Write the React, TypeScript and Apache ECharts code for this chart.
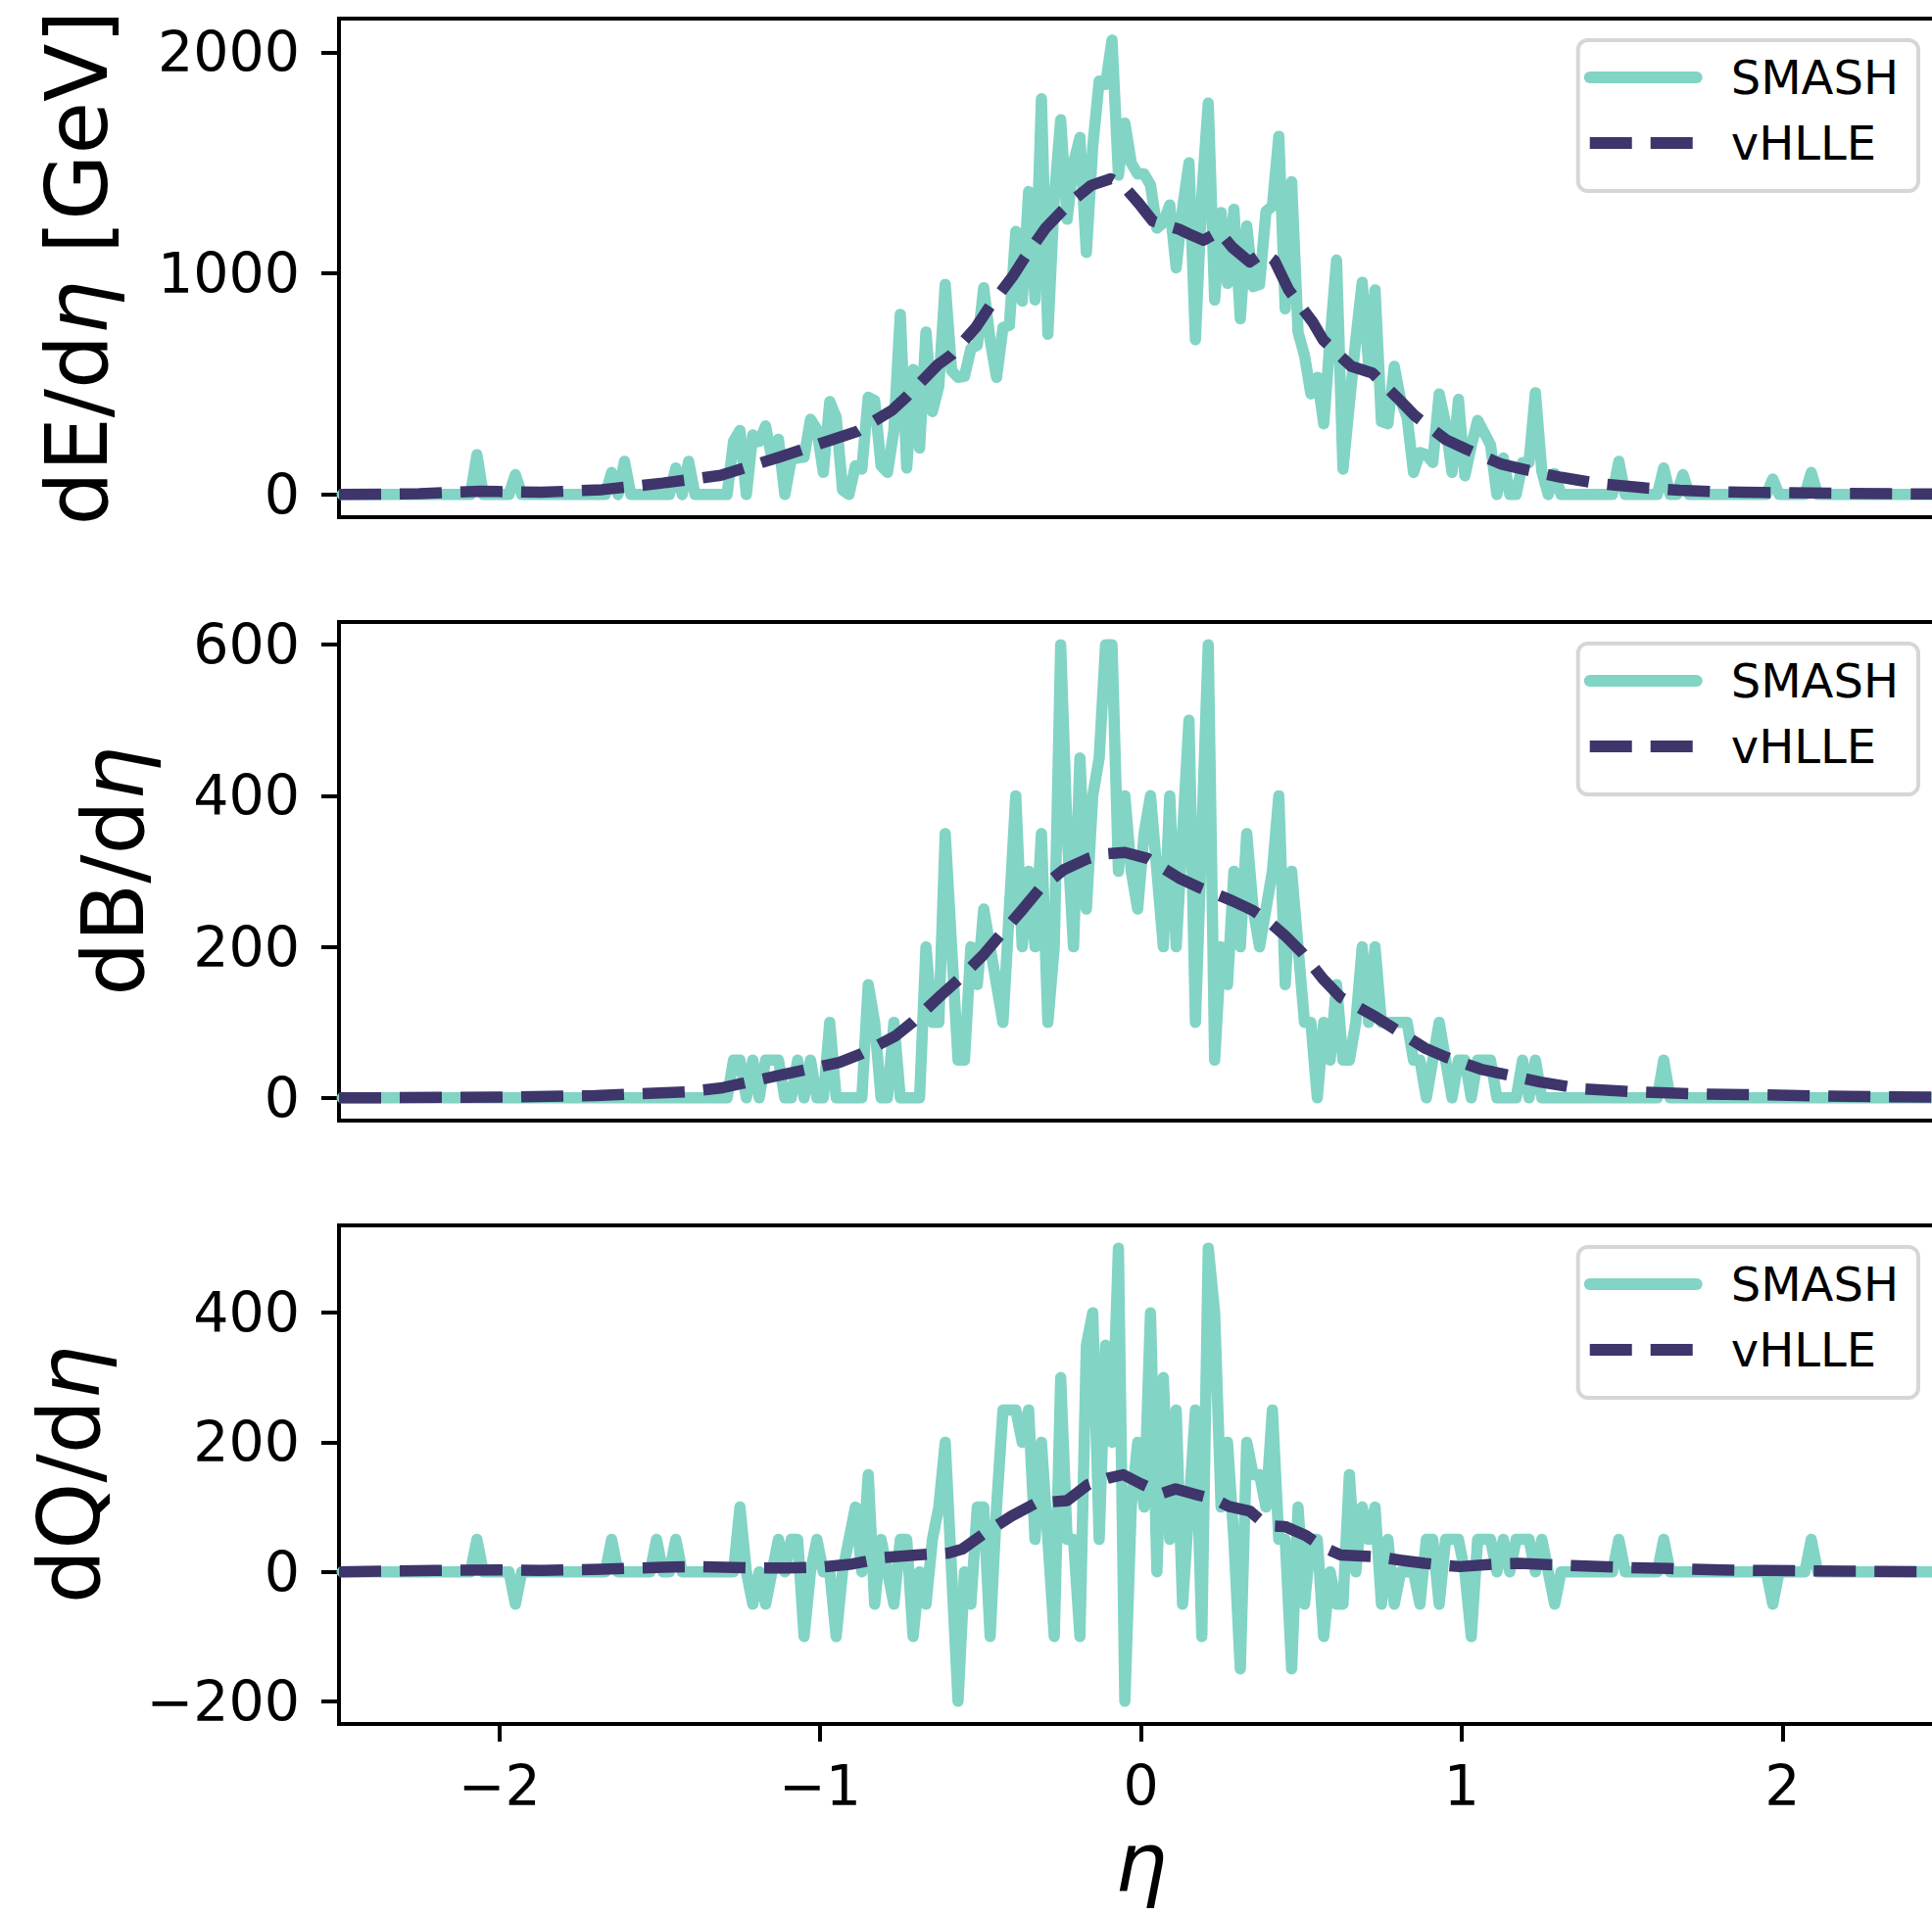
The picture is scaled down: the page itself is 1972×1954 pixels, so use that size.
import React, { useEffect, useRef } from 'react';
import * as echarts from 'echarts';

// SMASH histogram: 250 bins of width 0.02 in eta, first bin centre at -2.49
const ETA_START = -2.49;
const ETA_STEP = 0.02;

const smashE = [
  0, 0, 0, 0, 0, 0, 0, 0, 0, 0, 0, 0, 0, 0, 0, 0, 0, 0, 0, 0, 0,
  180, 0, 0, 0, 0, 0, 90,
  0, 0, 0, 0, 0, 0, 0, 0, 0, 0, 0, 0, 0, 0,
  100, 0, 150, 0, 0, 0, 0, 0, 0, 0, 120, 0, 150,
  0, 0, 0, 0, 0, 0,
  240, 290, 0, 270, 240, 310, 160, 250, 0, 160,
  165, 170, 340, 295, 100, 420, 350, 20, 0, 130,
  115, 440, 425, 130, 100, 290, 815, 120, 565, 210,
  735, 375, 490, 950, 560, 530, 535, 660, 675, 935,
  700, 530, 755, 765, 1190, 875, 1370, 880, 1790, 725,
  1340, 1695, 1245, 1500, 1615, 1095, 1575, 1870, 1855, 2055,
  1445, 1680, 1500, 1450, 1450, 1400, 1205, 1230, 1310, 1025,
  1295, 1500, 700, 1355, 1770, 880, 1275, 955, 1290, 795,
  1215, 940, 950, 1280, 1305, 1620, 840, 1415, 735, 630,
  455, 530, 320, 700, 1060, 115, 410, 700, 960, 585,
  925, 330, 320, 580, 425, 350, 100, 190, 180, 145,
  455, 320, 100, 430, 85, 220, 335, 280, 225, 0,
  165, 0, 0, 145, 145, 460, 105, 0, 95,
  0, 0, 0, 0, 0, 0, 0, 0, 0, 150,
  0, 0, 0, 0, 0, 0, 120, 0, 0, 90,
  0, 0, 0, 0, 0, 0, 0, 0, 0, 0, 0, 0, 0, 70,
  0, 0, 0, 0, 0, 100,
  0, 0, 0, 0, 0, 0, 0, 0, 0, 0, 0, 0, 0, 0, 0, 0, 0, 0, 0, 0,
];

const smashB = [
  0, 0, 0, 0, 0, 0, 0, 0, 0, 0, 0, 0, 0, 0, 0, 0, 0, 0, 0, 0,
  0, 0, 0, 0, 0, 0, 0, 0, 0, 0, 0, 0, 0, 0, 0, 0, 0, 0, 0, 0,
  0, 0, 0, 0, 0, 0, 0, 0, 0, 0, 0, 0, 0, 0, 0, 0, 0, 0, 0, 0, 0,
  50, 50, 0, 50, 0, 50, 50, 50, 0, 0,
  50, 0, 50, 0, 0, 100, 0, 0, 0, 0,
  0, 150, 100, 0, 0, 100, 0, 0, 0, 0,
  200, 100, 100, 350, 200, 50, 50, 200, 150, 250,
  200, 150, 100, 250, 400, 200, 300, 200, 350, 100,
  200, 600, 350, 200, 450, 250, 400, 450, 600, 600,
  300, 400, 300, 250, 350, 400, 300, 200, 400, 200,
  350, 500, 100, 350, 600, 50, 200, 150, 300, 200,
  350, 250, 200, 250, 300, 400, 150, 300, 200, 100,
  100, 0, 100, 50, 150, 50, 50, 100, 200, 100,
  200, 100, 100, 100, 100, 100, 50, 50, 0, 50,
  100, 50, 0, 50, 50, 0, 50, 50, 50, 0,
  0, 0, 0, 50, 0, 50,
  0, 0, 0, 0, 0, 0, 0, 0, 0, 0, 0, 0, 0, 0, 0, 0, 0, 0, 0,
  50,
  0, 0, 0, 0, 0, 0, 0, 0, 0, 0, 0, 0, 0, 0, 0, 0, 0, 0, 0, 0,
  0, 0, 0, 0, 0, 0, 0, 0, 0, 0, 0, 0, 0, 0, 0, 0, 0, 0, 0, 0, 0, 0, 0,
];

const smashQ = [
  0, 0, 0, 0, 0, 0, 0, 0, 0, 0, 0, 0, 0, 0, 0, 0, 0, 0, 0, 0, 0,
  50, 0, 0, 0, 0, 0, -50,
  0, 0, 0, 0, 0, 0, 0, 0, 0, 0, 0, 0, 0, 0,
  50, 0, 0, 0, 0, 0, 0, 50, 0, 0, 50,
  0, 0, 0, 0, 0, 0, 0, 0, 0,
  100, 0, -50, 0, -50, 0, 50, 0, 50, 50,
  -100, 0, 50, 0, 0, -100, 0, 50, 100, 0,
  150, -50, 50, 0, -50, 50, 50, -100, 0, -50,
  50, 100, 200, 0, -200, 0, -50, 100, 100, -100,
  100, 250, 250, 250, 200, 250, 50, 200, 50, -100,
  300, 50, 50, -100, 350, 400, 50, 350, 200, 500,
  -200, 100, 200, 100, 400, 0, 300, 50, 250, -50,
  100, 250, -100, 500, 400, 100, 200, 50, -150, 200,
  150, 150, 100, 250, 50, 50, -150, 100, -50, 50,
  50, -100, 0, -50, -50, 150, 0, 100, 50, 100,
  -50, 50, -50, 0, 0, 0, -50, 50, 50, -50,
  50, 50, 50, 0, -100, 50, 50, 50, 0, 50,
  0, 50, 50, 50, 0, 50, 0, -50,
  0, 0, 0, 0, 0, 0, 0, 0, 0, 50,
  0, 0, 0, 0, 0, 0, 50,
  0, 0, 0, 0, 0, 0, 0, 0, 0, 0, 0, 0, 0, 0, 0, 0, -50,
  0, 0, 0, 0, 0, 50,
  0, 0, 0, 0, 0, 0, 0, 0, 0, 0, 0, 0, 0, 0, 0, 0, 0, 0, 0, 0,
];

// vHLLE (smooth hydro curves)
const vhEtaE = [-2.5, -2.25, -2.06, -1.87, -1.68, -1.49, -1.31, -1.13, -0.98, -0.885, -0.776, -0.732, -0.633, -0.59, -0.514, -0.47, -0.4, -0.361, -0.296, -0.247, -0.2, -0.154, -0.094, -0.056, -0.007, 0.037, 0.086, 0.119, 0.151, 0.195, 0.244, 0.285, 0.339, 0.383, 0.416, 0.46, 0.536, 0.569, 0.656, 0.721, 0.798, 0.852, 0.951, 1.016, 1.125, 1.19, 1.31, 1.43, 1.57, 1.68, 1.81, 1.94, 2.2, 2.5];
const vhE = [0, 4, 15, 10, 22, 52, 87, 168, 240, 285, 381, 440, 587, 632, 757, 853, 986, 1074, 1207, 1281, 1345, 1399, 1428, 1399, 1318, 1237, 1214, 1200, 1178, 1150, 1190, 1118, 1052, 1096, 1059, 927, 779, 698, 580, 550, 440, 359, 248, 204, 137, 115, 78, 49, 30, 19, 12, 9, 5, 2];

const vhEtaB = [-2.5, -2.0, -1.7, -1.42, -1.31, -1.245, -1.125, -1.06, -0.94, -0.874, -0.765, -0.71, -0.623, -0.568, -0.492, -0.448, -0.372, -0.317, -0.241, -0.164, -0.11, -0.05, 0.021, 0.119, 0.185, 0.25, 0.285, 0.35, 0.394, 0.449, 0.503, 0.569, 0.623, 0.733, 0.885, 0.951, 1.06, 1.125, 1.245, 1.376, 1.54, 1.76, 1.94, 2.2, 2.5];
const vhB = [0, 1, 3, 8, 13, 19, 30, 36, 47, 58, 82, 101, 136, 157, 189, 211, 248, 276, 302, 317, 323, 325, 317, 291, 278, 267, 261, 248, 235, 215, 192, 157, 133, 107, 66, 54, 38, 32, 21, 12, 8, 5, 4, 2, 1];

const vhEtaQ = [-2.5, -2.2, -2.0, -1.87, -1.68, -1.49, -1.4, -1.3, -1.2, -1.1, -1.0, -0.9, -0.8, -0.7, -0.6, -0.557, -0.492, -0.404, -0.328, -0.23, -0.164, -0.1, -0.055, 0.0, 0.065, 0.108, 0.174, 0.23, 0.274, 0.339, 0.394, 0.449, 0.514, 0.569, 0.623, 0.743, 0.808, 0.885, 0.994, 1.103, 1.179, 1.321, 1.485, 1.649, 1.81, 1.94, 2.2, 2.5];
const vhQ = [0, 2, 3, 2, 4, 7, 8, 7, 6, 6, 7, 12, 22, 26, 29, 35, 58, 86, 106, 110, 135, 145, 150, 136, 121, 128, 119, 112, 101, 94, 71, 70, 56, 38, 26, 23, 18, 13, 8, 12, 13, 10, 7, 5, 3, 2, 1, 0];

const xTicks = [-2, -1, 0, 1, 2];
const yTicksE = [0, 1000, 2000];
const yTicksB = [0, 200, 400, 600];
const yTicksQ = [-200, 0, 200, 400];

const FONT = 'DejaVu Sans';
const TEAL = '#82D4C5';
const PURPLE = '#3E356B';
const CHART_W = 2000; // wider than the page: the right edge of the axes is cut off, as in the reference

const fmt = (v: number) => (v < 0 ? '\u2212' + Math.abs(v) : String(v));

const panels = [
  { top: 19, min: -102.5, max: 2152.5, ticks: yTicksE, smash: smashE, vEta: vhEtaE, vh: vhE, name: '{n|dE/d}{i|η}{n| [GeV]}', nameGap: 224 },
  { top: 635, min: -30, max: 630, ticks: yTicksB, smash: smashB, vEta: vhEtaB, vh: vhB, name: '{n|dB/d}{i|η}', nameGap: 187 },
  { top: 1251, min: -235, max: 535, ticks: yTicksQ, smash: smashQ, vEta: vhEtaQ, vh: vhQ, name: '{n|dQ/d}{i|η}', nameGap: 232 },
];

const nameRich = {
  n: { fontSize: 87, fontFamily: FONT, color: '#000' },
  i: { fontSize: 87, fontFamily: FONT, fontStyle: 'italic', color: '#000' },
};

function buildOption() {
  return {
    animation: false,
    backgroundColor: '#fff',
    grid: panels.map((p) => ({
      left: 346, top: p.top, right: CHART_W - 1983, height: 509,
      show: true, borderColor: '#000', borderWidth: 4, backgroundColor: 'transparent',
    })),
    xAxis: panels.map((p, i) => ({
      type: 'value', gridIndex: i, min: -2.5, max: 2.5,
      axisLine: { show: false, onZero: false },
      splitLine: { show: false },
      axisTick: { show: i === 2, length: 18, lineStyle: { width: 4, color: '#000' }, customValues: xTicks },
      axisLabel: { show: i === 2, customValues: xTicks, formatter: fmt, fontSize: 57, fontFamily: FONT, color: '#000', margin: 34 },
      name: i === 2 ? 'η' : '',
      nameLocation: 'middle', nameGap: 104,
      nameTextStyle: { fontSize: 84, lineHeight: 76, fontFamily: FONT, fontStyle: 'italic', color: '#000' },
    })),
    yAxis: panels.map((p, i) => ({
      type: 'value', gridIndex: i, min: p.min, max: p.max,
      axisLine: { show: false, onZero: false },
      splitLine: { show: false },
      axisTick: { show: true, length: 18, lineStyle: { width: 4, color: '#000' }, customValues: p.ticks },
      axisLabel: { customValues: p.ticks, formatter: fmt, fontSize: 57, fontFamily: FONT, color: '#000', margin: 40 },
      name: p.name, nameLocation: 'middle', nameRotate: 90, nameGap: p.nameGap,
      nameTextStyle: { rich: nameRich },
    })),
    legend: panels.map((p) => ({
      top: p.top + 22, right: CHART_W - 1958, orient: 'vertical',
      data: ['SMASH', 'vHLLE'],
      itemWidth: 109, itemHeight: 50, itemGap: 19,
      padding: [14, 20, 25, 6],
      backgroundColor: 'rgba(255,255,255,0.8)', borderColor: '#d6d6d6', borderWidth: 4, borderRadius: 10,
      textStyle: { fontSize: 48, fontFamily: FONT, color: '#000', padding: [0, 0, 0, 30] },
      lineStyle: { width: 12 },
      itemStyle: { opacity: 0, color: 'rgba(0,0,0,0)', borderWidth: 0 },
      selectedMode: false,
    })),
    series: panels.flatMap((p, i) => [
      {
        type: 'line', name: 'SMASH', xAxisIndex: i, yAxisIndex: i,
        data: p.smash.map((v, k) => [ETA_START + ETA_STEP * k, v]),
        symbol: 'none', showSymbol: false,
        lineStyle: { color: TEAL, width: 11.5, join: 'round', cap: 'round' },
        itemStyle: { color: TEAL }, z: 2,
      },
      {
        type: 'line', name: 'vHLLE', xAxisIndex: i, yAxisIndex: i,
        data: p.vEta.map((x, k) => [x, p.vh[k]]),
        symbol: 'none', showSymbol: false,
        lineStyle: { color: PURPLE, width: 11.5, type: [43, 19], cap: 'butt', join: 'round' },
        itemStyle: { color: PURPLE }, z: 3,
      },
    ]),
  };
}

export default function App() {
  const ref = useRef<HTMLDivElement>(null);
  useEffect(() => {
    const chart = echarts.init(ref.current!, null, { renderer: 'svg' });
    chart.setOption(buildOption() as any);
    return () => chart.dispose();
  }, []);
  return (
    <div style={{ position: 'absolute', left: 0, top: 0, width: 1972, height: 1954, overflow: 'hidden', background: '#fff' }}>
      <div ref={ref} style={{ width: CHART_W, height: 1954 }} />
    </div>
  );
}
